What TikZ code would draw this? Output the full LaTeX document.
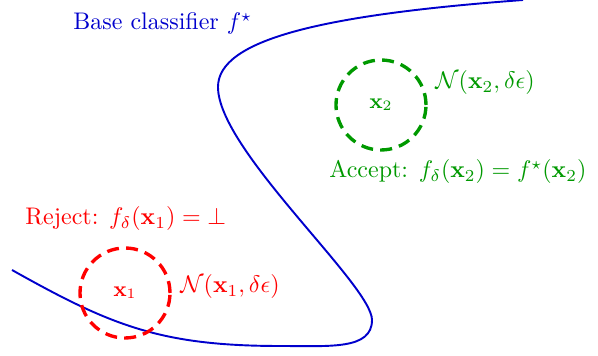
\documentclass[tikz,border=0pt]{standalone}
\usepackage{amsmath,amssymb,amsfonts}
\usepackage{xcolor}
\usepackage{tikz}
\definecolor{clfblue}{HTML}{0000CC}
\definecolor{acceptgreen}{HTML}{009900}
\definecolor{rejectred}{HTML}{FF0000}

\begin{document}
\begin{tikzpicture}[x=0.4167pt, y=-0.4167pt,
    ball/.style={circle, draw, dash pattern=on 5pt off 3pt, line width=1.4pt, minimum size=37.5pt, inner sep=0pt, font=\small},
    lbl/.style={anchor=base west, inner sep=0pt}]
    \useasboundingbox (0,0) rectangle (598,356);

    % Decision boundary of the base classifier
    \draw[clfblue, thick] (12,270) .. controls (110,325) and (160,346) .. (280,346)
        .. controls (330,346) and (372,350) .. (372,320)
        .. controls (372,285) and (218,150) .. (218,87)
        .. controls (218,40) and (320,15) .. (523,0);
    \node[lbl, clfblue] (title) at (73,30) {Base classifier $f^\star$};

    % Point x1 close to the boundary (rejected)
    \node[ball, draw=rejectred, text=rejectred] (x1) at (125,293) {$\mathbf{x}_1$};
    \node[lbl, rejectred] (noise1) at (180,293) {$\mathcal{N}(\mathbf{x}_1, \delta\epsilon)$};
    \node[lbl, rejectred] (reject) at (25,225) {Reject: $f_\delta(\mathbf{x}_1) = \bot$};

    % Point x2 far from the boundary (accepted)
    \node[ball, draw=acceptgreen, text=acceptgreen] (x2) at (381,105) {$\mathbf{x}_2$};
    \node[lbl, acceptgreen] (noise2) at (435,89) {$\mathcal{N}(\mathbf{x}_2, \delta\epsilon)$};
    \node[lbl, acceptgreen] (accept) at (329,178) {Accept: $f_\delta(\mathbf{x}_2) = f^\star(\mathbf{x}_2)$};

\end{tikzpicture}
\end{document}
